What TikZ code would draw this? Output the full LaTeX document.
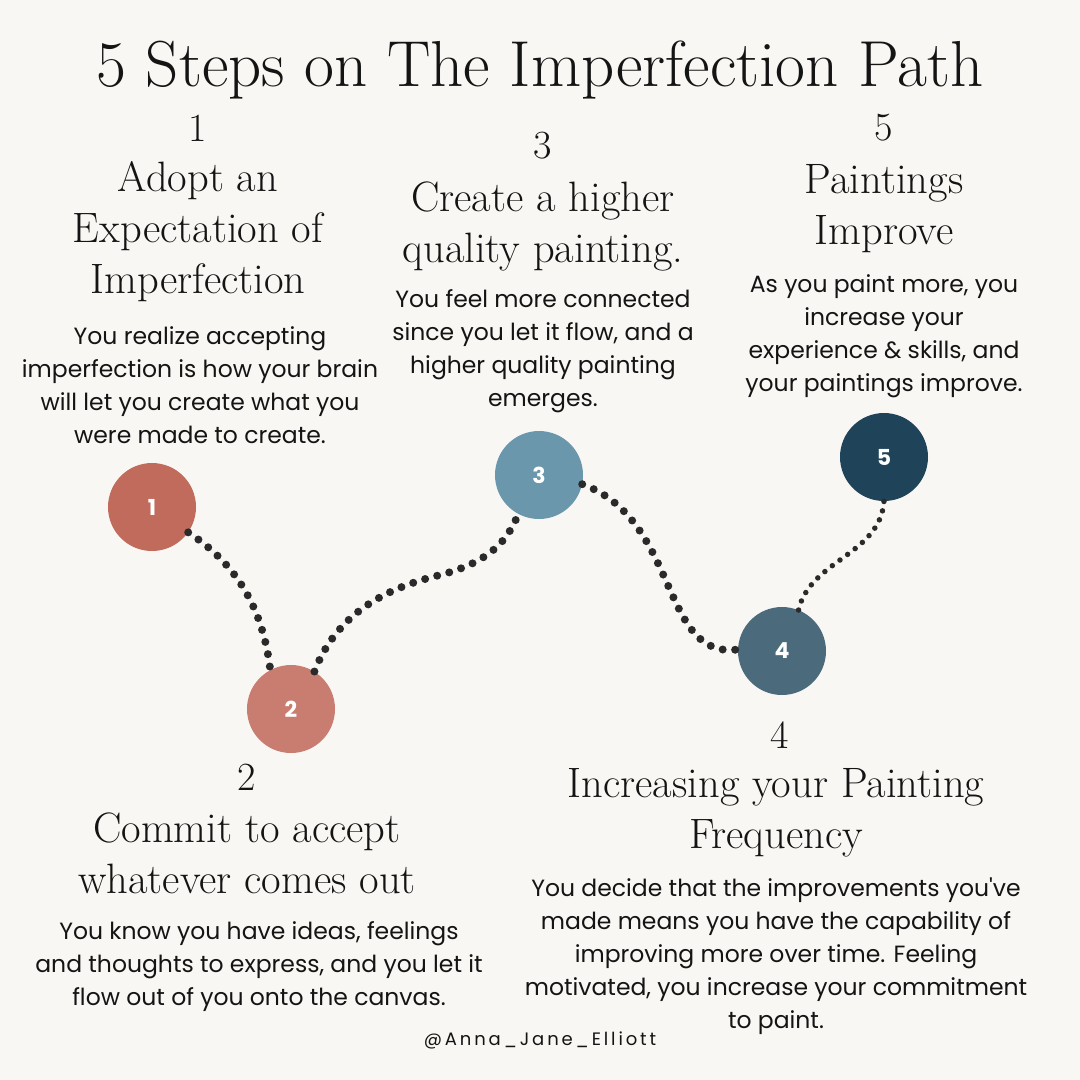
\documentclass[tikz,border=0pt]{standalone}
\usepackage{fontspec}
\setsansfont{Poppins}
\newfontfamily\handlefont[LetterSpace=16]{Poppins}
\usetikzlibrary{positioning}
\definecolor{PathBg}{HTML}{F9F7F4}
\definecolor{PathInk}{HTML}{141414}
\definecolor{DotInk}{HTML}{2A2A2A}
\definecolor{StepA}{HTML}{C06B5C}
\definecolor{StepB}{HTML}{C97D71}
\definecolor{StepC}{HTML}{6A97AB}
\definecolor{StepD}{HTML}{4B6B7D}
\definecolor{StepE}{HTML}{1F4359}

\begin{document}
\begin{tikzpicture}[x=1pt,y=-1pt,
    stepdot/.style={circle, minimum size=88pt, inner sep=0pt, text=white, font=\sffamily\bfseries\fontsize{22}{24}\selectfont},
    numtxt/.style={text=PathInk, font=\fontsize{40}{44}\selectfont},
    headtxt/.style={text=PathInk, align=center, font=\fontsize{42.5}{51}\selectfont},
    bodytxt/.style={text=PathInk, align=center, font=\sffamily\fontsize{23.5}{33}\selectfont},
    trail/.style={draw=DotInk, line width=8pt, line cap=round, dash pattern=on 0pt off 12.5pt},
    trailthin/.style={draw=DotInk, line width=5.5pt, line cap=round, dash pattern=on 0pt off 9.5pt}
  ]
  \fill[PathBg] (0,0) rectangle (1080,1080);
  \useasboundingbox (0,0) rectangle (1080,1080);
  \node[text=PathInk, font=\fontsize{65}{70}\selectfont] (title) at (540,70) {5 Steps on The Imperfection Path};

  % the five stops
  \node[stepdot, fill=StepA] (s1) at (152,507) {1};
  \node[stepdot, fill=StepB] (s2) at (291,709) {2};
  \node[stepdot, fill=StepC] (s3) at (539,475) {3};
  \node[stepdot, fill=StepD] (s4) at (782,651) {4};
  \node[stepdot, fill=StepE] (s5) at (884,457) {5};

  % dotted trail
  \draw[trail] (s1.-35) .. controls (230,560) and (262,600) .. (s2.118);
  \draw[trail] (s2.58) .. controls (340,605) and (400,585) .. (440,575) .. controls (490,562) and (508,540) .. (s3.-118);
  \draw[trail] (s3.-12) .. controls (680,520) and (660,660) .. (s4.178);
  \draw[trailthin] (s4.68) .. controls (810,560) and (880,555) .. (s5.-90);

  % step 1
  \node[numtxt] (n1) at (198,128) {1};
  \node[headtxt] (h1) at (198,232) {Adopt an\\Expectation of\\Imperfection};
  \node[bodytxt] (b1) at (200,385) {You realize accepting\\imperfection is how your brain\\will let you create what you\\were made to create.};

  % step 3
  \node[numtxt] (n3) at (543,146) {3};
  \node[headtxt] (h3) at (543,226) {Create a higher\\quality painting.};
  \node[bodytxt] (b3) at (543,351) {You feel more connected\\since you let it flow, and a\\higher quality painting\\emerges.};

  % step 5
  \node[numtxt] (n5) at (884,128) {5};
  \node[headtxt] (h5) at (884,209) {Paintings\\Improve};
  \node[bodytxt] (b5) at (884,336) {As you paint more, you\\increase your\\experience \& skills, and\\your paintings improve.};

  % step 2
  \node[numtxt] (n2) at (247,777) {2};
  \node[headtxt] (h2) at (247,853) {Commit to accept\\whatever comes out};
  \node[bodytxt] (b2) at (259,967) {You know you have ideas, feelings\\and thoughts to express, and you let it\\flow out of you onto the canvas.};

  % step 4
  \node[numtxt] (n4) at (780,735) {4};
  \node[headtxt] (h4) at (776,813) {Increasing your Painting\\Frequency};
  \node[bodytxt] (b4) at (776,956) {You decide that the improvements you\textquotesingle ve\\made means you have the capability of\\improving more over time. Feeling\\motivated, you increase your commitment\\to paint.};

  \node[text=PathInk, font=\handlefont\fontsize{18}{20}\selectfont] (handle) at (540,1040) {@Anna\_Jane\_Elliott};
\end{tikzpicture}
\end{document}
